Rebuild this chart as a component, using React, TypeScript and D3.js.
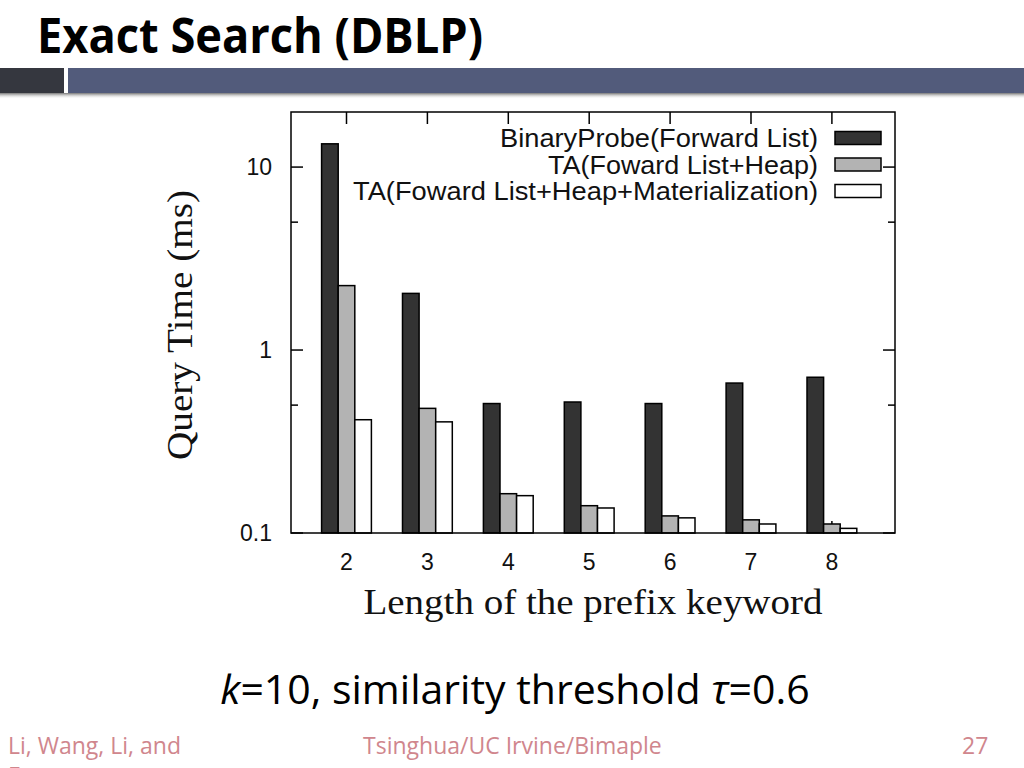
import * as d3 from 'd3';

const categories = [2, 3, 4, 5, 6, 7, 8];
const seriesNames = [
  'BinaryProbe(Forward List)',
  'TA(Foward List+Heap)',
  'TA(Foward List+Heap+Materialization)',
];
const binaryProbe = [13.4, 2.04, 0.51, 0.52, 0.51, 0.66, 0.71];
const taHeap = [2.25, 0.48, 0.164, 0.141, 0.124, 0.118, 0.112];
const taHeapMat = [0.416, 0.405, 0.16, 0.137, 0.121, 0.112, 0.106];
const seriesValues = [binaryProbe, taHeap, taHeapMat];
const seriesFills = ['#333333', '#b3b3b3', '#ffffff'];
const legendWidths = [318, 270, 465];
const yMajorTicks = [0.1, 1, 10];
const yMinorTicks = [0.5, 5];
const yTickLabels = ['0.1', '1', '10'];

const W = 1024;
const H = 768;
const frame = { left: 291, right: 895, top: 112, bottom: 533 };

export default function App() {
  const y = d3.scaleLog().domain([0.1, 20]).range([frame.bottom, frame.top]);
  const x = d3.scaleLinear().domain([1.314, 8.78]).range([frame.left, frame.right]);
  const bw = 16.6;

  const sans = "'Liberation Sans', Arial, sans-serif";
  const serif = "'Liberation Serif', 'Times New Roman', serif";
  const slide = "'Open Sans', 'Noto Sans', sans-serif";

  return (
    <svg width={W} height={H} viewBox={`0 0 ${W} ${H}`}
      style={{ position: 'absolute', left: 0, top: 0, background: '#fff' }}>
      <defs>
        <linearGradient id="shadow" x1="0" y1="0" x2="0" y2="1">
          <stop offset="0%" stopColor="#555" stopOpacity={0.8} />
          <stop offset="100%" stopColor="#fff" stopOpacity={0} />
        </linearGradient>
      </defs>

      {/* slide header */}
      <text x={37} y={53} fontFamily={slide} fontWeight={700} fontSize={48}
        textLength={446} lengthAdjust="spacingAndGlyphs" fill="#000">Exact Search (DBLP)</text>
      <rect x={0} y={93} width={W} height={6} fill="url(#shadow)" />
      <rect x={0} y={68} width={64} height={25} fill="#35373f" />
      <rect x={68} y={68} width={W - 68} height={25} fill="#525b7b" />

      {/* chart frame ticks */}
      <g stroke="#000" strokeWidth={1.5}>
        {yMajorTicks.map((t) => (
          <g key={'M' + t}>
            <line x1={frame.left} x2={frame.left + 12} y1={y(t)} y2={y(t)} />
            <line x1={frame.right} x2={frame.right - 12} y1={y(t)} y2={y(t)} />
          </g>
        ))}
        {yMinorTicks.map((t) => (
          <g key={'m' + t}>
            <line x1={frame.left} x2={frame.left + 7} y1={y(t)} y2={y(t)} />
            <line x1={frame.right} x2={frame.right - 7} y1={y(t)} y2={y(t)} />
          </g>
        ))}
        {categories.map((c) => (
          <g key={'xt' + c}>
            <line x1={x(c)} x2={x(c)} y1={frame.top} y2={frame.top + 12} />
            <line x1={x(c)} x2={x(c)} y1={frame.bottom} y2={frame.bottom - 12} />
          </g>
        ))}
      </g>

      {/* bars */}
      <g stroke="#000" strokeWidth={1.5}>
        {seriesValues.map((vals, si) =>
          vals.map((v, i) => (
            <rect key={si + '-' + i}
              x={x(categories[i]) + (si - 1.5) * bw}
              y={y(v)}
              width={bw}
              height={y(0.1) - y(v)}
              fill={seriesFills[si]} />
          ))
        )}
      </g>

      {/* frame */}
      <rect x={frame.left} y={frame.top} width={frame.right - frame.left}
        height={frame.bottom - frame.top} fill="none" stroke="#000" strokeWidth={1.5} />

      {/* y tick labels */}
      {yMajorTicks.map((t, i) => (
        <text key={'yl' + t} x={frame.left - 19} y={y(t)} dy="0.36em" textAnchor="end"
          fontFamily={sans} fontSize={23} fill="#111">{yTickLabels[i]}</text>
      ))}
      {/* x tick labels */}
      {categories.map((c) => (
        <text key={'xl' + c} x={x(c)} y={570} textAnchor="middle"
          fontFamily={sans} fontSize={23} fill="#111">{c}</text>
      ))}

      {/* axis titles */}
      <text x={593} y={614} textAnchor="middle" fontFamily={serif} fontSize={36}
        textLength={459} lengthAdjust="spacingAndGlyphs" fill="#111">Length of the prefix keyword</text>
      <text transform={`translate(192,325) rotate(-90)`} textAnchor="middle" fontFamily={serif}
        fontSize={36} textLength={270} lengthAdjust="spacingAndGlyphs" fill="#111">Query Time (ms)</text>

      {/* legend */}
      {seriesNames.map((name, i) => {
        const cy = 138 + i * 26.5;
        return (
          <g key={'lg' + i}>
            <text x={818} y={cy} dy="0.36em" textAnchor="end" fontFamily={sans} fontSize={25}
              textLength={legendWidths[i]} lengthAdjust="spacingAndGlyphs"
              fill="#111">{name}</text>
            <rect x={835} y={cy - 6.5} width={46} height={13} fill={seriesFills[i]}
              stroke="#000" strokeWidth={1.5} />
          </g>
        );
      })}

      {/* caption */}
      <text x={515} y={704} textAnchor="middle" fontFamily={slide} fontSize={41} fill="#000">
        <tspan fontStyle="italic">k</tspan>=10, similarity threshold <tspan fontStyle="italic">τ</tspan>=0.6
      </text>

      {/* footer */}
      <g fontFamily={slide} fontSize={23} fill="#d0868d">
        <text x={8} y={754}>Li, Wang, Li, and</text>
        <text x={8} y={784}>Feng</text>
        <text x={363} y={754}>Tsinghua/UC Irvine/Bimaple</text>
        <text x={962} y={754}>27</text>
      </g>
    </svg>
  );
}
